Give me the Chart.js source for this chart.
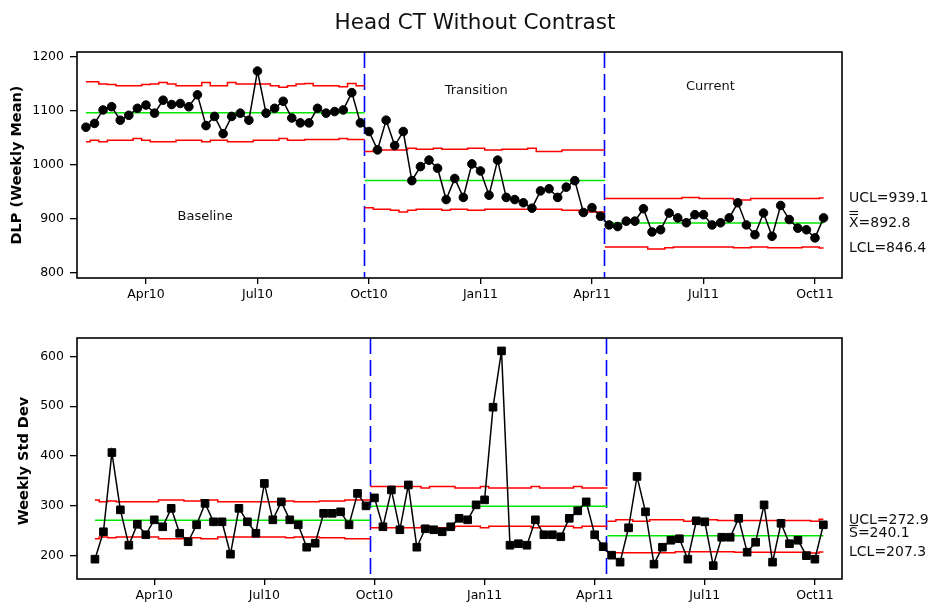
<!DOCTYPE html>
<html>
<head>
<meta charset="utf-8">
<script src="https://cdn.jsdelivr.net/npm/chart.js@4.4.1/dist/chart.umd.min.js"></script>
<style>
  body { margin: 0; background: #fff; }
  #wrap { position: relative; width: 928px; height: 603px; }
  canvas { position: absolute; left: 0; top: 0; }
</style>
</head>
<body>
<div id="wrap">
  <canvas id="meanChart" width="928" height="603"></canvas>
  <canvas id="sdChart" width="928" height="603"></canvas>
</div>
<script>
// stages (week index of first / last subgroup)
const stageNames = ['Baseline', 'Transition', 'Current'];
const stageStart = [0, 33, 61];
const stageEnd = [32, 60, 86];
const stageBreaks = [32.45, 60.35];

// x axis ticks (week index) and labels
const tickWeeks = [7, 20, 33, 46, 59, 72, 85];
const tickLabels = ['Apr10', 'Jul10', 'Oct10', 'Jan11', 'Apr11', 'Jul11', 'Oct11'];

// Xbar chart: DLP weekly mean
const weeklyMean = [
  1070, 1077, 1102, 1108, 1083, 1092, 1105, 1111, 1096, 1120, 1112, 1114, 1108, 1130, 1073, 1090, 1058,
  1090, 1096, 1083, 1174, 1096, 1105, 1118, 1087, 1078, 1078, 1105, 1096, 1099, 1102, 1134, 1078,
  1062, 1028, 1083, 1036, 1062, 971, 997, 1009, 994, 936, 975, 940, 1002, 989, 944, 1009, 940, 936, 930,
  920, 952, 956, 940, 959, 971, 912, 921, 905,
  889, 886, 896, 896, 919, 876, 880, 911, 902, 893, 908, 908, 889, 893, 902, 930, 889, 871, 911, 868,
  925, 899, 883, 880, 865, 902
];
const meanCL = [1097, 971.5, 892.8];
const meanUCL = [
  1154, 1154, 1150, 1149, 1147, 1147, 1147, 1149, 1150, 1153, 1150, 1147, 1147, 1147, 1153, 1147, 1147,
  1153, 1150, 1150, 1150, 1150, 1147, 1144, 1147, 1150, 1151, 1147, 1147, 1147, 1145, 1151, 1147,
  1025, 1028, 1028, 1028, 1028, 1031, 1029, 1029, 1031, 1029, 1029, 1029, 1031, 1031, 1028, 1028, 1029,
  1029, 1029, 1031, 1025, 1025, 1025, 1028, 1028, 1028, 1028, 1028,
  938, 938, 938, 938, 938, 938, 938, 938, 938, 940, 940, 938, 938, 938, 938, 935, 935, 938, 938, 938,
  938, 938, 938, 938, 938, 939.1
];
const meanLCL = [
  1043, 1046, 1043, 1046, 1046, 1046, 1049, 1046, 1043, 1043, 1043, 1046, 1046, 1046, 1043, 1046, 1046,
  1043, 1043, 1043, 1046, 1046, 1046, 1049, 1046, 1046, 1047, 1047, 1047, 1047, 1049, 1047, 1047,
  921, 918, 918, 916, 913, 916, 918, 918, 918, 916, 918, 918, 916, 916, 918, 918, 918, 918, 918, 918,
  918, 918, 918, 916, 916, 913, 913, 913,
  848, 848, 848, 848, 848, 844.5, 844.5, 846.5, 848, 848, 848, 848, 848, 848, 848, 846.5, 846.5, 848,
  848, 846.5, 846.5, 846.5, 846.5, 848, 848, 846.4
];

// S chart: weekly std dev
const weeklySd = [
  193, 248, 407, 292, 221, 263, 242, 272, 258, 295, 245, 228, 262, 305, 268, 268, 203, 295, 268, 245,
  345, 272, 308, 272, 262, 217, 225, 285, 285, 288, 262, 325, 300,
  316, 258, 332, 252, 342, 217, 254, 252, 248, 258, 275, 272, 302, 312, 498, 611, 221, 224, 221, 272,
  242, 242, 238, 275, 290, 308, 242, 218,
  201, 187, 256, 359, 288, 183, 217, 231, 234, 193, 270, 268, 180, 237, 237, 275, 207, 227, 302, 187,
  265, 224, 231, 200, 193, 262
];
const sdCL = [271.3, 299, 240.1];
const sdUCL = [
  312, 308, 310, 308, 308, 308, 308, 308, 312, 312, 312, 310, 310, 312, 312, 308, 308, 308, 308, 308,
  308, 308, 308, 310, 308, 308, 308, 310, 310, 310, 312, 312, 312,
  339, 339, 339, 339, 339, 339, 336, 339, 339, 339, 336, 336, 336, 339, 336, 336, 336, 336, 336, 339,
  336, 336, 336, 336, 339, 336, 336, 336,
  269, 272, 272, 269, 269, 272, 272, 272, 272, 269, 272, 272, 272, 270.5, 270.5, 270.5, 270.5, 270.5,
  270.5, 270.5, 270.5, 270.5, 270.5, 270.5, 269, 272.9
];
const sdLCL = [
  234, 237.5, 236, 237.5, 237.5, 237.5, 237.5, 237.5, 234, 234, 234, 236, 236, 234, 234, 237.5, 237.5,
  237.5, 237.5, 237.5, 237.5, 237.5, 237.5, 236, 237.5, 237.5, 237.5, 236, 236, 236, 234, 234, 234,
  256, 256, 256, 256, 256, 256, 259, 256, 256, 256, 259, 259, 259, 256, 259, 259, 259, 259, 259, 256,
  259, 259, 259, 259, 256, 259, 259, 259,
  206, 206, 206, 206, 206, 206, 206, 206, 208, 208, 208, 208, 208, 208, 208, 207, 207, 207, 207, 207,
  207, 207, 207, 207, 205.5, 207.3
];

const FONT = 'DejaVu Sans';
const RED = '#ff0000', GREEN = '#00e800', BLUE = '#0000ff';

// draws frame, stage breaks and all the extra text
const decor = {
  id: 'decor',
  beforeDatasetsDraw(chart, args, o) {
    const { ctx, chartArea: a, scales: { x } } = chart;
    ctx.save();
    ctx.strokeStyle = BLUE;
    ctx.lineWidth = 1.6;
    ctx.setLineDash([16, 6]);
    stageBreaks.forEach(b => {
      const px = Math.round(x.getPixelForValue(b)) + 0.5;
      ctx.beginPath();
      ctx.moveTo(px, a.top);
      ctx.lineTo(px, a.bottom);
      ctx.stroke();
    });
    ctx.restore();
  },
  afterDraw(chart, args, o) {
    const { ctx, chartArea: a, scales: { x, y } } = chart;
    ctx.save();
    ctx.strokeStyle = '#000';
    ctx.lineWidth = 1.6;
    ctx.strokeRect(a.left, a.top, a.right - a.left, a.bottom - a.top);

    ctx.fillStyle = '#111';
    if (o.title) {
      ctx.font = '21.5px ' + FONT;
      ctx.textAlign = 'center';
      ctx.textBaseline = 'alphabetic';
      ctx.fillText(o.title, 475, 28.5);
    }

    // y axis title
    ctx.save();
    ctx.translate(o.yTitleX, (a.top + a.bottom) / 2 + o.yTitleDy);
    ctx.rotate(-Math.PI / 2);
    ctx.font = 'bold 14.5px ' + FONT;
    ctx.textAlign = 'center';
    ctx.textBaseline = 'middle';
    ctx.fillStyle = '#000';
    ctx.fillText(o.yTitle, 0, 0);
    ctx.restore();

    // stage names
    ctx.font = '13px ' + FONT;
    ctx.textAlign = 'center';
    ctx.textBaseline = 'middle';
    (o.stageAt || []).forEach((p, s) => {
      ctx.fillText(stageNames[s], x.getPixelForValue(p[0]), y.getPixelForValue(p[1]));
    });

    // limit labels at the right
    ctx.font = '14px ' + FONT;
    ctx.textAlign = 'left';
    ctx.textBaseline = 'middle';
    const lx = a.right + 7;
    o.side.forEach(l => {
      const py = y.getPixelForValue(l.value) + (l.dy || 0);
      ctx.fillText(l.text + '=' + l.value.toFixed(1), lx, py);
      if (l.bars) {
        ctx.lineWidth = 1.1;
        ctx.strokeStyle = '#111';
        for (let k = 0; k < l.bars; k++) {
          const by = Math.round(py - 8.5 - k * 3.5) + 0.5;
          ctx.beginPath();
          ctx.moveTo(lx + 0.5, by);
          ctx.lineTo(lx + 9, by);
          ctx.stroke();
        }
      }
    });
    ctx.restore();
  }
};

function buildChart(id, cfg) {
  const last = cfg.values.length - 1;
  const datasets = [{
    data: cfg.values.map((v, i) => ({ x: i, y: v })),
    borderColor: '#000',
    borderWidth: 1.5,
    pointStyle: cfg.pointStyle,
    pointRadius: cfg.pointRadius,
    pointBackgroundColor: '#000',
    pointBorderColor: '#000',
    pointBorderWidth: 1
  }];
  stageStart.forEach((a, s) => {
    const b = stageEnd[s];
    const lo = Math.max(a - 0.5, 0), hi = Math.min(b + 0.5, last);
    // each subgroup keeps its limit for half a week on either side
    const steps = arr => {
      const pts = [];
      for (let i = a; i <= b; i++) pts.push({ x: Math.max(i - 0.5, lo), y: arr[i] });
      pts.push({ x: hi, y: arr[b] });
      return pts;
    };
    const line = { borderWidth: 1.5, pointRadius: 0, stepped: 'before' };
    datasets.push(Object.assign({ data: steps(cfg.ucl), borderColor: RED }, line));
    datasets.push(Object.assign({ data: steps(cfg.lcl), borderColor: RED }, line));
    datasets.push({ data: [{ x: lo, y: cfg.cl[s] }, { x: hi, y: cfg.cl[s] }],
      borderColor: GREEN, borderWidth: 1.5, pointRadius: 0 });
  });

  return new Chart(document.getElementById(id), {
    type: 'line',
    data: { datasets },
    options: {
      responsive: false,
      animation: false,
      devicePixelRatio: 1,
      layout: { padding: cfg.padding },
      plugins: {
        legend: { display: false },
        tooltip: { enabled: false },
        decor: cfg.decor
      },
      scales: {
        x: {
          type: 'linear',
          min: cfg.xMin, max: cfg.xMax,
          afterBuildTicks: s => { s.ticks = tickWeeks.map(v => ({ value: v })); },
          afterFit: s => { s.height = cfg.xHeight; },
          border: { display: false },
          grid: { drawOnChartArea: false, drawTicks: true, tickLength: 6, color: '#000', lineWidth: 1.3 },
          ticks: {
            autoSkip: false, maxRotation: 0, padding: 3, color: '#000',
            font: { family: FONT, size: 12.5 },
            callback: (v, i) => tickLabels[i]
          }
        },
        y: {
          min: cfg.yMin, max: cfg.yMax,
          afterBuildTicks: s => { s.ticks = cfg.yTicks.map(v => ({ value: v })); },
          afterFit: s => { s.width = 77; },
          border: { display: false },
          grid: { drawOnChartArea: false, drawTicks: true, tickLength: 7, color: '#000', lineWidth: 1.3 },
          ticks: {
            padding: 6, color: '#000', font: { family: FONT, size: 12.5 },
            callback: v => String(v)
          }
        }
      }
    },
    plugins: [decor]
  });
}

buildChart('meanChart', {
  values: weeklyMean, ucl: meanUCL, lcl: meanLCL, cl: meanCL,
  pointStyle: 'circle', pointRadius: 4.3,
  xMin: -1.04, xMax: 88.15, xHeight: 25,
  yMin: 790.7, yMax: 1209.3, yTicks: [800, 900, 1000, 1100, 1200],
  padding: { left: 0, right: 86, top: 52, bottom: 300 },
  decor: {
    title: 'Head CT Without Contrast',
    yTitle: 'DLP (Weekly Mean)', yTitleX: 17.5, yTitleDy: 0,
    stageAt: [[13.9, 904], [45.5, 1137], [72.8, 1146]],
    side: [
      { text: 'UCL', value: meanUCL[meanUCL.length - 1] },
      { text: 'X', value: meanCL[2], bars: 2 },
      { text: 'LCL', value: meanLCL[meanLCL.length - 1] }
    ]
  }
});

buildChart('sdChart', {
  values: weeklySd, ucl: sdUCL, lcl: sdLCL, cl: sdCL,
  pointStyle: 'rect', pointRadius: 5.4,
  xMin: -2.12, xMax: 88.2, xHeight: 24,
  yMin: 153.2, yMax: 636.9, yTicks: [200, 300, 400, 500, 600],
  padding: { left: 0, right: 86, top: 338, bottom: 0 },
  decor: {
    yTitle: 'Weekly Std Dev', yTitleX: 24.5, yTitleDy: 2.5,
    side: [
      { text: 'UCL', value: sdUCL[sdUCL.length - 1], dy: 1 },
      { text: 'S', value: sdCL[2], bars: 1, dy: -2.5 },
      { text: 'LCL', value: sdLCL[sdLCL.length - 1] }
    ]
  }
});
</script>
</body>
</html>
